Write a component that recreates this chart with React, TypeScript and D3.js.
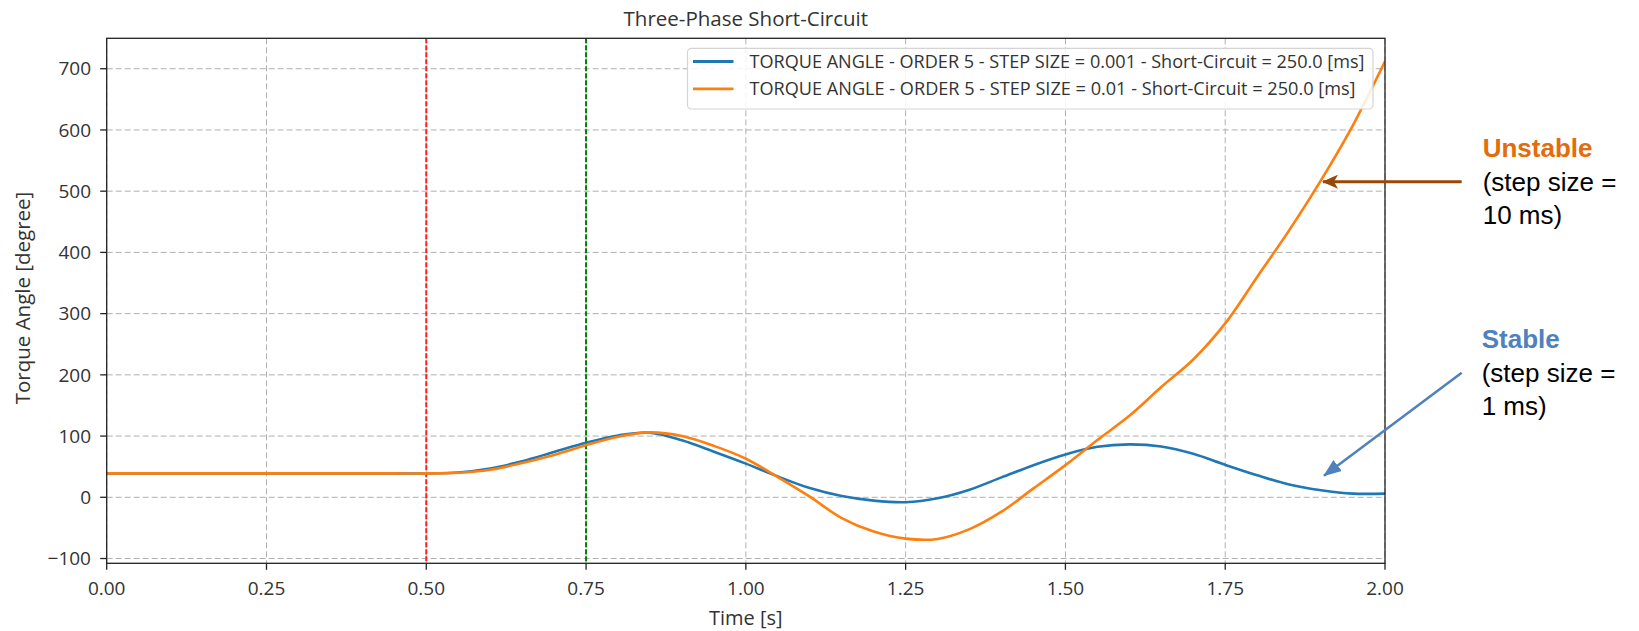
import React from "react";
import * as d3 from "d3";

const times = [0, 0.25, 0.45, 0.5, 0.55, 0.6, 0.65, 0.7, 0.75, 0.8, 0.85, 0.9, 0.95, 1.0, 1.05, 1.1, 1.15, 1.2, 1.25, 1.3, 1.35, 1.4, 1.45, 1.5, 1.55, 1.6, 1.65, 1.7, 1.75, 1.8, 1.85, 1.9, 1.95, 2.0];
const stableValues = [39, 39, 39, 39, 40.5, 47, 59, 74, 89, 101, 105.5, 93, 74.5, 55, 34, 15, 2, -5.5, -8, -1.5, 12.5, 32.5, 52.5, 70, 82.5, 86.5, 83, 71, 53, 36, 21, 11.5, 6, 6];
const unstableValues = [39, 39, 39, 39, 40, 45, 56, 69, 85, 99, 106, 100, 84, 63, 33, 1, -34, -56, -67.5, -68, -52, -23.5, 14.5, 52.5, 93.5, 133, 180, 225, 284, 360, 436, 518, 608, 712];

const xTicks = [0, 0.25, 0.5, 0.75, 1.0, 1.25, 1.5, 1.75, 2.0];
const yTicks = [-100, 0, 100, 200, 300, 400, 500, 600, 700];
const faultStart = 0.5;
const faultClear = 0.75;

const legendLabels = [
  "TORQUE ANGLE - ORDER 5 - STEP SIZE = 0.001 - Short-Circuit = 250.0 [ms]",
  "TORQUE ANGLE - ORDER 5 - STEP SIZE = 0.01 - Short-Circuit = 250.0 [ms]",
];
const seriesColors = ["#1f77b4", "#ff7f0e"];

const W = 1639;
const H = 631;
const L = 106.7, R = 1385, T = 38.3, B = 563.3;

export default function App() {
  const x = d3.scaleLinear().domain([0, 2]).range([L, R]);
  const y = d3.scaleLinear().domain([-107.8, 749.7]).range([B, T]);
  const line = d3
    .line<number>()
    .x((_, i) => x(times[i]))
    .y((d) => y(d))
    .curve(d3.curveCatmullRom.alpha(0.5));
  const chartFont = "'Open Sans', sans-serif";
  const annFont = "'Liberation Sans', Arial, sans-serif";

  return (
    <svg width={W} height={H} style={{ position: "absolute", left: 0, top: 0, background: "#fff" }}>
      <defs>
        <clipPath id="plot">
          <rect x={L} y={T} width={R - L} height={B - T} />
        </clipPath>
        <marker id="brownHead" viewBox="0 0 16 14" refX="15" refY="7" markerWidth="16" markerHeight="14" orient="auto" markerUnits="userSpaceOnUse">
          <path d="M0,0 L16,7 L0,14 L4,7 z" fill="#984807" />
        </marker>
        <marker id="blueHead" viewBox="0 0 18 14" refX="17" refY="7" markerWidth="18" markerHeight="14" orient="auto" markerUnits="userSpaceOnUse">
          <path d="M0,0 L18,7 L0,14 z" fill="#4F81BD" />
        </marker>
      </defs>
      <rect x={0} y={0} width={W} height={H} fill="#fff" />

      {/* grid */}
      {xTicks.map((t) => (
        <line key={"gx" + t} x1={x(t)} x2={x(t)} y1={T} y2={B} stroke="#b0b0b0" strokeWidth={1} strokeDasharray="6,3" />
      ))}
      {yTicks.map((t) => (
        <line key={"gy" + t} x1={L} x2={R} y1={y(t)} y2={y(t)} stroke="#b0b0b0" strokeWidth={1} strokeDasharray="6,3" />
      ))}

      {/* event lines */}
      <line x1={x(faultStart)} x2={x(faultStart)} y1={T} y2={B} stroke="#ff2020" strokeWidth={2} strokeDasharray="5,2" />
      <line x1={x(faultClear)} x2={x(faultClear)} y1={T} y2={B} stroke="#008000" strokeWidth={2} strokeDasharray="5,2" />

      {/* series */}
      <g clipPath="url(#plot)">
        <path d={line(stableValues) || ""} fill="none" stroke={seriesColors[0]} strokeWidth={2.6} />
        <path d={line(unstableValues) || ""} fill="none" stroke={seriesColors[1]} strokeWidth={2.6} />
      </g>

      {/* frame */}
      <rect x={L} y={T} width={R - L} height={B - T} fill="none" stroke="#222" strokeWidth={1.3} />

      {/* x ticks */}
      {xTicks.map((t) => (
        <g key={"xt" + t}>
          <line x1={x(t)} x2={x(t)} y1={B} y2={B + 6.5} stroke="#222" strokeWidth={1.3} />
          <text x={x(t)} y={595} textAnchor="middle" fontFamily={chartFont} fontSize={19} fill="#333">
            {t.toFixed(2)}
          </text>
        </g>
      ))}
      {/* y ticks */}
      {yTicks.map((t) => (
        <g key={"yt" + t}>
          <line x1={L - 6.5} x2={L} y1={y(t)} y2={y(t)} stroke="#222" strokeWidth={1.3} />
          <text x={91} y={y(t)} dy="0.35em" textAnchor="end" fontFamily={chartFont} fontSize={19} fill="#333">
            {t < 0 ? "\u2212" + Math.abs(t) : String(t)}
          </text>
        </g>
      ))}

      {/* title and labels */}
      <text x={(L + R) / 2} y={26} textAnchor="middle" fontFamily={chartFont} fontSize={20.5} fill="#333">
        Three-Phase Short-Circuit
      </text>
      <text x={(L + R) / 2} y={625} textAnchor="middle" fontFamily={chartFont} fontSize={20} fill="#333">
        Time [s]
      </text>
      <text transform={`translate(29.5,298) rotate(-90)`} textAnchor="middle" fontFamily={chartFont} fontSize={20.5} fill="#333">
        Torque Angle [degree]
      </text>

      {/* legend */}
      <rect x={687.5} y={48.3} width={685.5} height={60.7} rx={4} fill="#fff" fillOpacity={0.85} stroke="#d4d4d4" strokeWidth={1.2} />
      {legendLabels.map((lab, i) => (
        <g key={"lg" + i}>
          <line x1={693} x2={733.5} y1={61.5 + i * 27.3} y2={61.5 + i * 27.3} stroke={seriesColors[i]} strokeWidth={2.8} />
          <text x={749.5} y={61.5 + i * 27.3} dy="0.36em" fontFamily={chartFont} fontSize={17.5} fill="#333" textLength={i === 0 ? 615 : 606} lengthAdjust="spacingAndGlyphs">
            {lab}
          </text>
        </g>
      ))}

      {/* annotations */}
      <line x1={1461.7} y1={181.7} x2={1323} y2={181.7} stroke="#984807" strokeWidth={3} markerEnd="url(#brownHead)" />
      <text x={1482.7} y={157} fontFamily={annFont} fontSize={26} fontWeight="bold" fill="#E46C0A">Unstable</text>
      <text x={1482.7} y={190.5} fontFamily={annFont} fontSize={26} fill="#000">(step size =</text>
      <text x={1482.7} y={224} fontFamily={annFont} fontSize={26} fill="#000">10 ms)</text>

      <line x1={1461.7} y1={372.7} x2={1324} y2={475.7} stroke="#4F81BD" strokeWidth={2.5} markerEnd="url(#blueHead)" />
      <text x={1481.7} y={348} fontFamily={annFont} fontSize={26} fontWeight="bold" fill="#4F81BD">Stable</text>
      <text x={1481.7} y={381.7} fontFamily={annFont} fontSize={26} fill="#000">(step size =</text>
      <text x={1481.7} y={415} fontFamily={annFont} fontSize={26} fill="#000">1 ms)</text>
    </svg>
  );
}
